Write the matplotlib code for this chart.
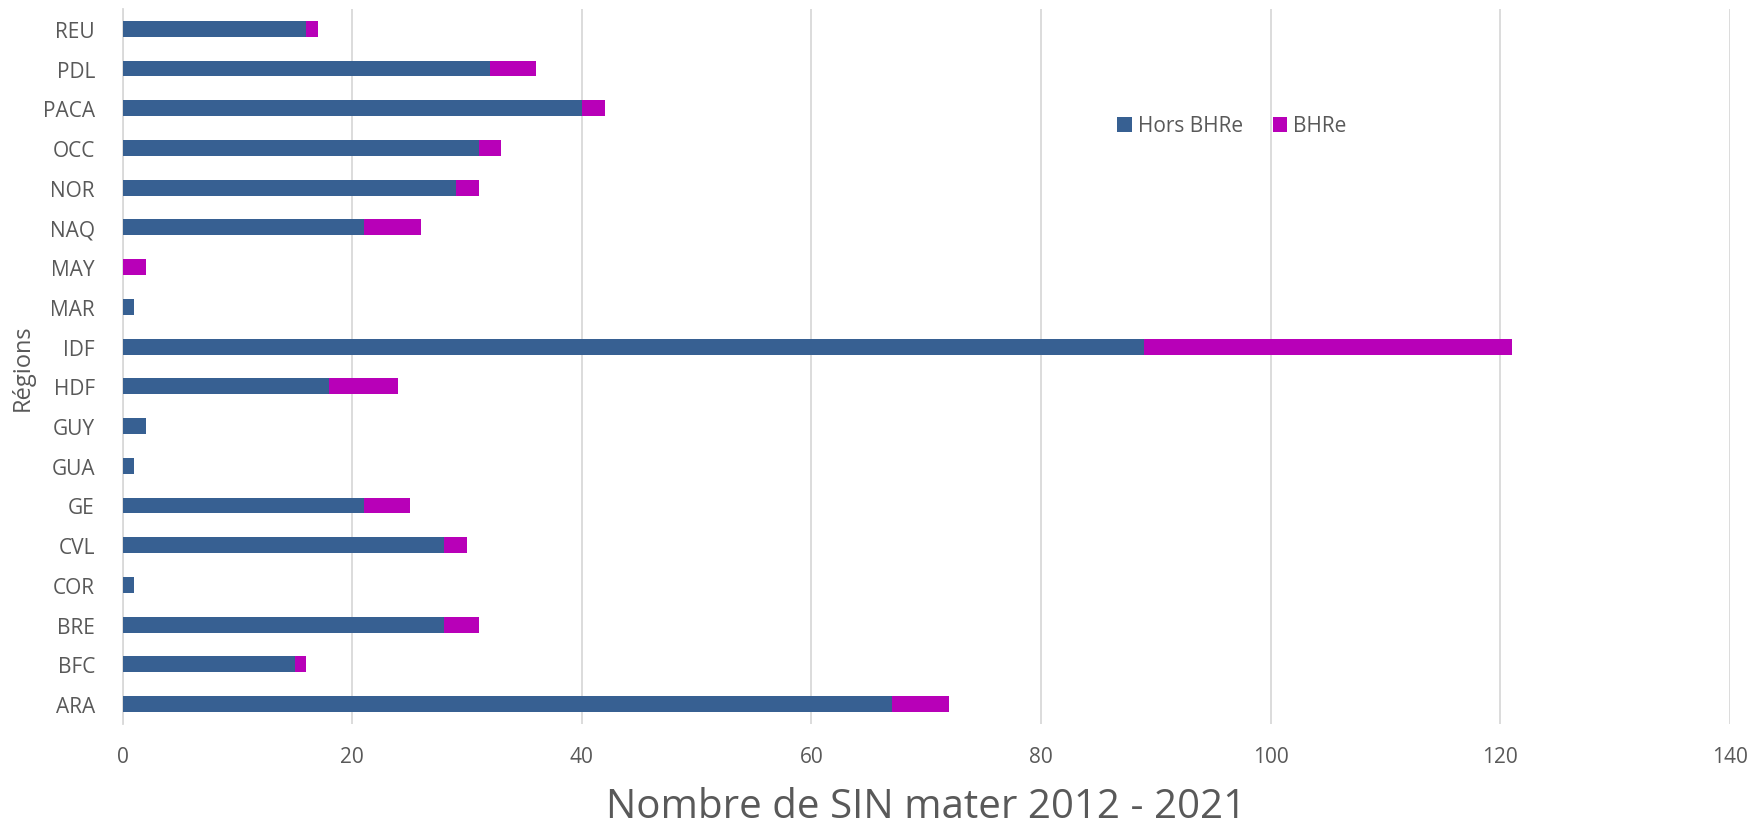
import numpy as np
import matplotlib.pyplot as plt

plt.rcParams['font.family'] = ['Open Sans', 'DejaVu Sans']

regions = ['ARA', 'BFC', 'BRE', 'COR', 'CVL', 'GE', 'GUA', 'GUY', 'HDF',
           'IDF', 'MAR', 'MAY', 'NAQ', 'NOR', 'OCC', 'PACA', 'PDL', 'REU']
hors_bhre = [67, 15, 28, 1, 28, 21, 1, 2, 18, 89, 1, 0, 21, 29, 31, 40, 32, 16]
bhre = [5, 1, 3, 0, 2, 4, 0, 0, 6, 32, 0, 2, 5, 2, 2, 2, 4, 1]

blue = '#376092'
magenta = '#B800B8'
text_col = '#595959'

fig = plt.figure(figsize=(17.65, 8.29), dpi=100)
ax = fig.add_axes([0.0695, 0.1255, 0.9105, 0.8625])

y = np.arange(len(regions))
ax.barh(y, hors_bhre, height=0.4, color=blue, label='Hors BHRe', zorder=3)
ax.barh(y, bhre, left=hors_bhre, height=0.4, color=magenta, label='BHRe', zorder=3)

ax.set_xlim(0, 140)
ax.set_ylim(-0.5, len(regions) - 0.5)
ax.set_xticks(np.arange(0, 141, 20))
ax.set_yticks(y)
ax.set_yticklabels(regions)
ax.grid(axis='x', color='#D9D9D9', lw=1.3, zorder=0)
ax.tick_params(length=0, labelsize=15, colors=text_col)
ax.tick_params(axis='x', pad=16)
ax.tick_params(axis='y', pad=20)
for s in ['top', 'right', 'bottom']:
    ax.spines[s].set_visible(False)
ax.spines['left'].set_color('#D9D9D9')
ax.spines['left'].set_linewidth(1.3)

ax.set_ylabel('Régions', fontsize=17, color=text_col)
ax.yaxis.set_label_coords(-0.055, 0.5)
ax.set_xlabel('Nombre de SIN mater 2012 - 2021', fontsize=29, color=text_col, labelpad=14)

fig.legend(loc='center left', bbox_to_anchor=(1107 / 1765, 1 - 127 / 829),
           ncol=2, frameon=False, fontsize=15, handlelength=0.7, handleheight=0.7,
           handletextpad=0.3, columnspacing=1.4, borderpad=0, labelcolor=text_col)

fig.savefig('out.png', dpi=100)
